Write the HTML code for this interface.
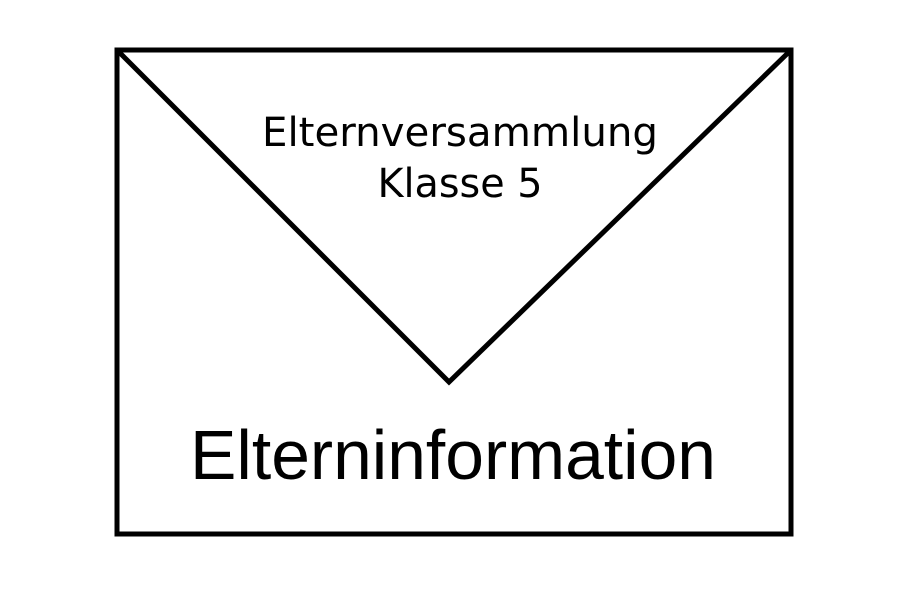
<!DOCTYPE html>
<html><head><style>html,body{margin:0;padding:0;background:#fff}</style></head>
<body>
<svg width="900" height="600" viewBox="0 0 900 600" xmlns="http://www.w3.org/2000/svg">
<rect x="0" y="0" width="900" height="600" fill="#fff"/>
<rect x="117" y="50" width="674" height="484" fill="none" stroke="#000" stroke-width="5"/>
<polyline points="117,50 449,382 791,50" fill="none" stroke="#000" stroke-width="5"/>
<text x="460" y="146" font-family="DejaVu Sans, sans-serif" font-size="40" text-anchor="middle" textLength="396" lengthAdjust="spacingAndGlyphs">Elternversammlung</text>
<text x="460" y="197" font-family="DejaVu Sans, sans-serif" font-size="40" text-anchor="middle" textLength="165" lengthAdjust="spacingAndGlyphs">Klasse 5</text>
<text x="453" y="479" font-family="Liberation Sans, sans-serif" font-size="70" text-anchor="middle" textLength="526" lengthAdjust="spacingAndGlyphs">Elterninformation</text>
</svg>
</body></html>
